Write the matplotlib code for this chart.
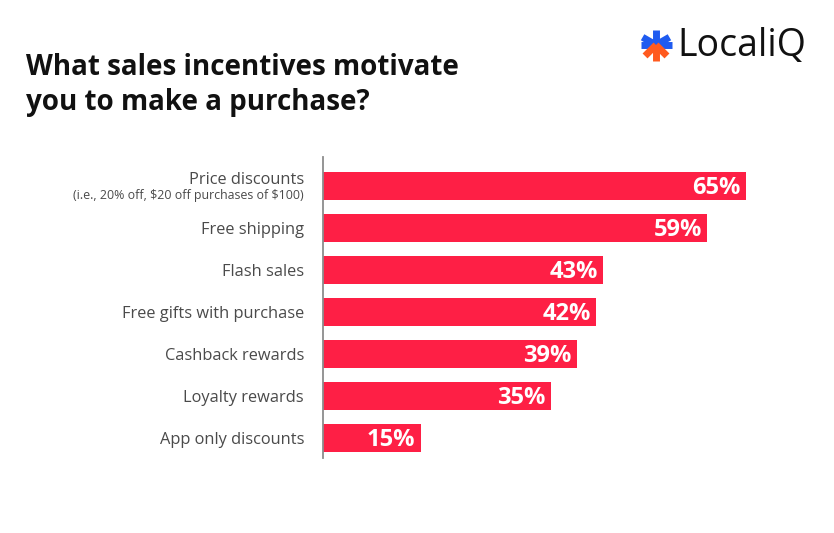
import matplotlib

matplotlib.use("Agg")
import matplotlib.pyplot as plt
import numpy as np
from matplotlib.lines import Line2D

CATEGORIES = [
    "Price discounts",
    "Free shipping",
    "Flash sales",
    "Free gifts with purchase",
    "Cashback rewards",
    "Loyalty rewards",
    "App only discounts",
]
SUBLABELS = {0: r"(i.e., 20% off, \$20 off purchases of \$100)"}
VALUES = [65, 59, 43, 42, 39, 35, 15]

BAR_COLOR = "#FE1F45"
LABEL_COLOR = "#4A4A4A"
FONT = "Open Sans"

W, H = 834, 533
fig = plt.figure(figsize=(W / 100, H / 100), dpi=100)
fig.patch.set_facecolor("white")


def fx(px):
    return px / W


def fy(py):
    return 1 - py / H


# axes spans the vertical axis line (x=323, y=157..458)
ax = fig.add_axes([fx(323), fy(458), fx(70 * 6.51), (458 - 157) / H])
y = np.arange(len(CATEGORIES))
ax.barh(y, VALUES, height=0.67, color=BAR_COLOR, zorder=2)
ax.set_xlim(0, 70)
ax.set_ylim(6.476, -0.69)

for yi, v in zip(y, VALUES):
    ax.text(v - 0.8, yi + 0.04, f"{v}%", ha="right", va="center",
            color="white", fontsize=17, fontweight="bold", family=FONT)

for yi, cat in zip(y, CATEGORIES):
    if yi in SUBLABELS:
        ax.text(-2.9, yi - 0.15, cat, ha="right", va="center",
                color=LABEL_COLOR, fontsize=11.8, family=FONT)
        ax.text(-2.9, yi + 0.22, SUBLABELS[yi], ha="right", va="center",
                color=LABEL_COLOR, fontsize=8.9, family=FONT)
    else:
        ax.text(-2.9, yi + 0.05, cat, ha="right", va="center",
                color=LABEL_COLOR, fontsize=11.8, family=FONT)

for side in ["top", "right", "bottom"]:
    ax.spines[side].set_visible(False)
ax.spines["left"].set_color("#8C8C8C")
ax.spines["left"].set_linewidth(1.3)
ax.set_xticks([])
ax.set_yticks([])

# title
fig.text(fx(26), fy(85), "What sales incentives motivate\nyou to make a purchase?",
         ha="left", va="center", fontsize=20, fontweight="bold",
         family=FONT, color="#111111", linespacing=1.3)

# logo
cx, cy = 656, 45
r = 15.5
blue = "#1F5BF0"
orange = "#FF5A1F"
for ang, col in [(90, blue), (150, blue), (30, blue), (180, blue), (0, blue),
                 (-90, orange), (-135, orange), (-45, orange)]:
    a = np.deg2rad(ang)
    fig.add_artist(Line2D([fx(cx), fx(cx + r * np.cos(a))],
                          [fy(cy), fy(cy - r * np.sin(a))],
                          color=col, linewidth=5, solid_capstyle="butt"))
fig.text(fx(677), fy(46), "LocaliQ", ha="left", va="center",
         fontsize=27, family=FONT, color="#111111")

fig.savefig("out.png", dpi=100, facecolor="white")
